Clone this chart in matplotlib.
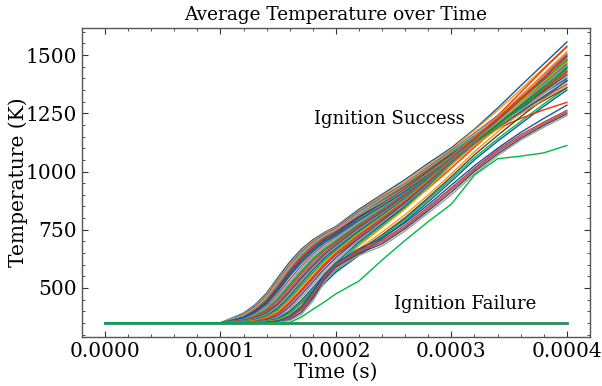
import numpy as np
import matplotlib
matplotlib.use("Agg")
import matplotlib.pyplot as plt

# time grid shared by every simulated case (s)
times = [0.0, 1.0e-4, 1.2e-4, 1.3e-4, 1.4e-4, 1.5e-4, 1.6e-4, 1.7e-4, 1.8e-4, 1.9e-4,
         2.0e-4, 2.2e-4, 2.4e-4, 2.6e-4, 2.8e-4, 3.0e-4, 3.2e-4, 3.4e-4, 3.6e-4, 3.8e-4, 4.0e-4]

# average temperature (K) of the cases that ignited
success_temps = [
    [350, 350, 392, 428, 478, 546, 612, 666, 707, 738, 764, 838, 902, 966, 1036, 1102, 1182, 1272, 1368, 1462, 1556],
    [350, 350, 351, 352, 355, 362, 380, 418, 470, 528, 576, 648, 720, 795, 880, 968, 1060, 1140, 1215, 1290, 1360],
    [350, 350, 389, 424, 472, 538, 604, 660, 702, 734, 760, 832, 896, 958, 1028, 1096, 1178, 1262, 1352, 1445, 1540],
    [350, 350, 359, 370, 392, 430, 482, 540, 592, 638, 676, 748, 812, 880, 958, 1045, 1140, 1240, 1340, 1440, 1535],
    [350, 350, 386, 420, 466, 532, 598, 654, 697, 730, 756, 828, 890, 950, 1020, 1090, 1165, 1240, 1318, 1395, 1470],
    [350, 350, 384, 416, 460, 520, 584, 640, 683, 716, 742, 805, 860, 918, 985, 1055, 1125, 1190, 1250, 1305, 1360],
    [350, 350, 384, 416, 462, 526, 592, 647, 691, 726, 752, 822, 884, 944, 1012, 1082, 1150, 1218, 1285, 1350, 1410],
    [350, 350, 350, 351, 354, 360, 376, 410, 462, 520, 568, 640, 712, 786, 870, 958, 1050, 1130, 1205, 1280, 1350],
    [350, 350, 381, 411, 454, 518, 584, 641, 685, 720, 748, 816, 878, 940, 1010, 1080, 1155, 1230, 1310, 1392, 1480],
    [350, 350, 352, 355, 359, 370, 396, 440, 496, 552, 598, 668, 740, 815, 900, 990, 1085, 1170, 1255, 1340, 1420],
    [350, 350, 378, 406, 448, 510, 576, 633, 679, 714, 742, 812, 874, 936, 1006, 1075, 1135, 1185, 1228, 1265, 1297],
    [350, 350, 355, 362, 377, 406, 452, 508, 563, 615, 658, 728, 796, 868, 950, 1040, 1135, 1230, 1325, 1415, 1505],
    [350, 350, 376, 402, 442, 502, 568, 625, 671, 708, 736, 806, 868, 930, 1000, 1072, 1148, 1228, 1312, 1400, 1495],
    [350, 350, 382, 413, 458, 522, 588, 644, 689, 724, 750, 815, 870, 928, 995, 1065, 1140, 1215, 1290, 1368, 1445],
    [350, 350, 373, 398, 436, 494, 560, 617, 664, 702, 730, 800, 862, 925, 996, 1068, 1145, 1222, 1305, 1390, 1478],
    [350, 350, 364, 381, 410, 456, 513, 571, 623, 666, 700, 768, 828, 892, 965, 1045, 1130, 1218, 1305, 1390, 1480],
    [350, 350, 370, 393, 430, 485, 549, 605, 654, 694, 724, 794, 856, 920, 992, 1066, 1150, 1235, 1325, 1420, 1515],
    [350, 350, 353, 358, 368, 392, 434, 488, 543, 597, 642, 712, 778, 848, 928, 1015, 1105, 1188, 1270, 1352, 1432],
    [350, 350, 368, 389, 423, 475, 537, 594, 645, 686, 718, 788, 850, 915, 988, 1064, 1146, 1228, 1315, 1405, 1500],
    [350, 350, 351, 353, 357, 368, 392, 434, 488, 543, 590, 660, 728, 802, 888, 978, 1072, 1155, 1235, 1312, 1392],
    [350, 350, 366, 385, 416, 465, 525, 583, 635, 677, 711, 782, 845, 910, 985, 1062, 1140, 1215, 1295, 1375, 1455],
    [350, 350, 372, 396, 433, 489, 553, 609, 657, 696, 726, 792, 852, 915, 985, 1058, 1138, 1220, 1300, 1380, 1462],
    [350, 350, 364, 381, 410, 457, 515, 573, 626, 669, 704, 776, 840, 906, 982, 1060, 1138, 1212, 1285, 1360, 1440],
    [350, 350, 357, 366, 385, 422, 474, 531, 584, 632, 670, 742, 806, 874, 952, 1036, 1124, 1212, 1300, 1385, 1470],
    [350, 350, 362, 377, 404, 448, 505, 563, 616, 660, 696, 770, 835, 902, 978, 1058, 1142, 1225, 1312, 1402, 1490],
    [350, 350, 360, 373, 398, 439, 495, 553, 606, 652, 690, 764, 830, 898, 975, 1056, 1136, 1208, 1280, 1352, 1425],
    [350, 350, 359, 370, 392, 431, 485, 543, 596, 644, 683, 758, 825, 894, 972, 1054, 1134, 1205, 1275, 1345, 1415],
    [350, 350, 358, 367, 387, 423, 476, 533, 586, 636, 676, 752, 820, 890, 970, 1052, 1132, 1210, 1290, 1372, 1455],
    [350, 350, 356, 364, 381, 415, 466, 523, 577, 628, 669, 746, 815, 886, 968, 1050, 1130, 1200, 1268, 1335, 1400],
    [350, 350, 355, 362, 377, 408, 457, 513, 567, 620, 662, 740, 810, 882, 965, 1048, 1128, 1205, 1285, 1365, 1445],
    [350, 350, 354, 360, 373, 401, 448, 503, 558, 612, 655, 734, 805, 878, 962, 1046, 1126, 1196, 1262, 1325, 1385],
    [350, 350, 353, 358, 369, 394, 439, 493, 548, 603, 648, 728, 800, 874, 958, 1044, 1124, 1200, 1278, 1355, 1430],
    [350, 350, 353, 356, 365, 388, 430, 483, 538, 594, 641, 722, 795, 870, 955, 1042, 1122, 1192, 1258, 1318, 1375],
    [350, 350, 352, 355, 362, 381, 420, 471, 526, 582, 630, 714, 788, 864, 950, 1038, 1120, 1198, 1280, 1362, 1445],
    [350, 350, 352, 354, 359, 375, 410, 459, 514, 570, 619, 706, 781, 858, 945, 1035, 1118, 1190, 1262, 1335, 1410],
    [350, 350, 351, 353, 357, 370, 401, 447, 501, 558, 608, 698, 774, 852, 940, 1032, 1116, 1186, 1255, 1322, 1390],
    [350, 350, 351, 352, 356, 366, 392, 435, 488, 545, 596, 690, 767, 846, 935, 1030, 1114, 1195, 1275, 1360, 1450],
    [350, 350, 351, 352, 355, 362, 384, 423, 475, 532, 584, 682, 760, 840, 930, 1028, 1112, 1182, 1248, 1310, 1370],
    [350, 350, 350, 351, 353, 358, 375, 412, 474, 550, 600, 660, 705, 770, 848, 930, 1015, 1092, 1158, 1212, 1262],
    [350, 350, 350, 351, 352, 356, 370, 404, 465, 543, 595, 654, 698, 762, 840, 922, 1008, 1085, 1150, 1205, 1255],
    [350, 350, 350, 350, 351, 354, 364, 395, 455, 535, 590, 648, 690, 755, 832, 912, 1000, 1076, 1142, 1198, 1248],
    [350, 350, 350, 350, 351, 353, 360, 386, 444, 526, 583, 640, 680, 745, 822, 900, 990, 1068, 1135, 1190, 1240],
    [350, 350, 350, 351, 353, 359, 380, 420, 484, 557, 607, 668, 715, 780, 858, 942, 1025, 1100, 1168, 1228, 1285],
]

# slow igniting case
slow_temps = [350, 350, 350, 350, 350, 350, 352, 375, 408, 440, 475, 530, 620, 705, 785, 860, 985, 1055, 1066, 1080, 1112]

# cases that did not ignite
failure_times = [0.0, 4.0e-4]
failure_temps = [350, 350]

colors = ["#0C5DA5", "#00B945", "#FF9500", "#FF2C00", "#845B97", "#474747", "#9e9e9e"]

plt.rcParams["font.family"] = "DejaVu Serif"
plt.rcParams["font.size"] = 14.5
plt.rcParams["axes.prop_cycle"] = plt.cycler(color=colors)

fig = plt.figure(figsize=(6.02, 3.86), dpi=100)
ax = fig.add_axes([0.136, 0.127, 0.844, 0.8005])

ax.plot(failure_times, failure_temps, color="#2E8B57", lw=2.0, zorder=1)
for temps in success_temps:
    ax.plot(times, temps, lw=1.0, zorder=2)
ax.plot(times, slow_temps, color="#00B945", lw=1.0, zorder=2)

ax.text(0.000246, 1226, "Ignition Success", ha="center", va="center", fontsize=13)
ax.text(0.000312, 432, "Ignition Failure", ha="center", va="center", fontsize=13)

ax.set_title("Average Temperature over Time", fontsize=13.3)
ax.set_xlabel("Time (s)")
ax.set_ylabel("Temperature (K)")
ax.xaxis.set_label_coords(0.5, -0.084)
ax.yaxis.set_label_coords(-0.106, 0.5)
ax.set_xticks([0.0, 0.0001, 0.0002, 0.0003, 0.0004])
ax.set_xticklabels(["0.0000", "0.0001", "0.0002", "0.0003", "0.0004"])
ax.set_yticks([500, 750, 1000, 1250, 1500])

ax.minorticks_on()
ax.tick_params(which="both", direction="in", top=True, right=True, color="#333333")
ax.tick_params(which="major", length=4, width=0.8)
ax.tick_params(which="minor", length=2, width=0.6)
for spine in ax.spines.values():
    spine.set_linewidth(1.0)
    spine.set_color("#555555")

fig.savefig("out.png", dpi=100)
